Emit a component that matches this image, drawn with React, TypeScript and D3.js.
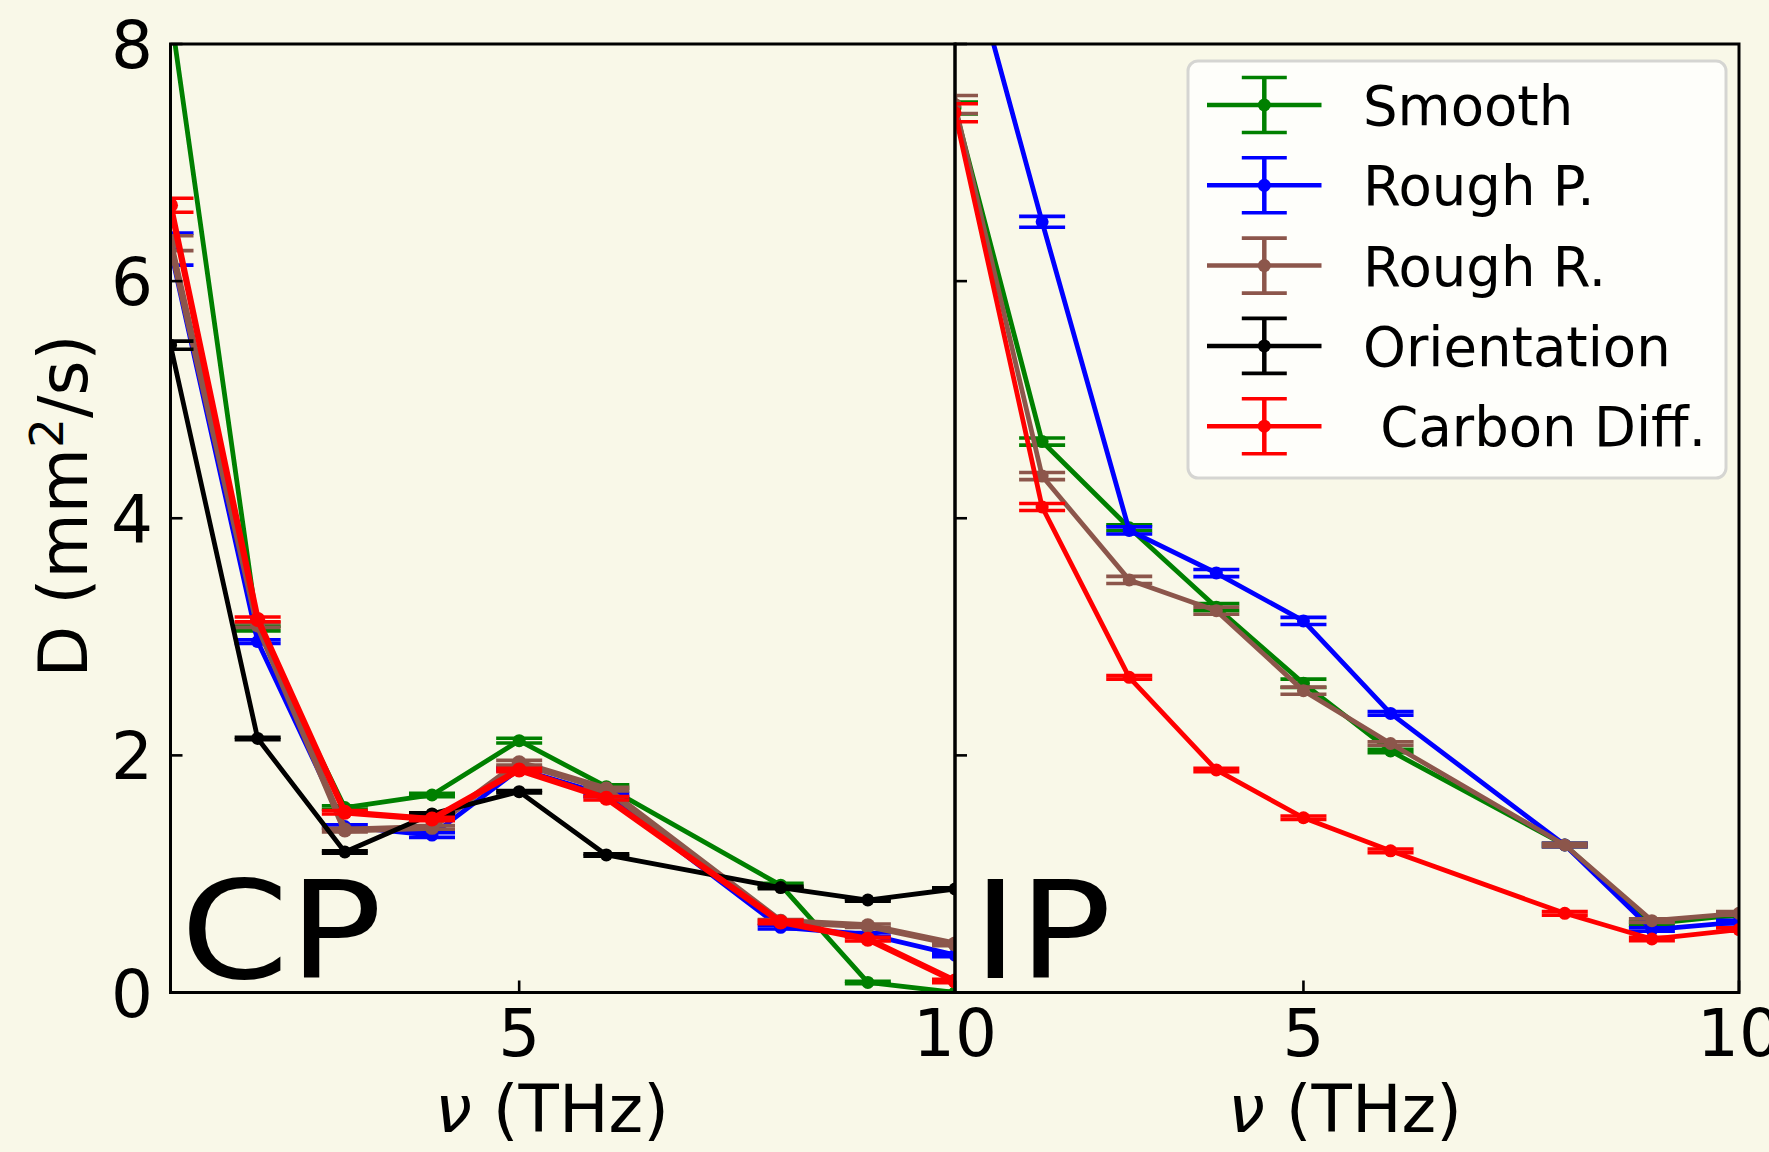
import React from 'react';
import * as d3 from 'd3';

const W = 1769;
const H = 1152;

// ---------- data ----------
const freqs = [1, 2, 3, 4, 5, 6, 8, 9, 10];
const seriesNames = ['Smooth', 'Rough P.', 'Rough R.', 'Orientation', ' Carbon Diff.'];
const seriesColors = ['#008000', '#0000ff', '#8c564b', '#000000', '#ff0000'];

// CP panel
const smoothCP = [8.27, 3.07, 1.56, 1.666, 2.124, 1.736, 0.905, 0.085, 0.0];
const roughPCP = [6.27, 2.96, 1.40, 1.328, 1.885, 1.666, 0.55, 0.49, 0.316];
const roughRCP = [6.32, 3.10, 1.37, 1.393, 1.938, 1.716, 0.60, 0.563, 0.41];
const orientCP = [5.46, 2.143, 1.185, 1.506, 1.694, 1.16, 0.885, 0.78, 0.873];
const carbonCP = [6.64, 3.147, 1.52, 1.463, 1.877, 1.638, 0.595, 0.45, 0.097];

const smoothErrCP = [0.05, 0.02, 0.015, 0.015, 0.02, 0.015, 0.015, 0.01, 0.01];
const roughPErrCP = [0.135, 0.015, 0.015, 0.02, 0.015, 0.015, 0.015, 0.015, 0.015];
const roughRErrCP = [0.063, 0.02, 0.015, 0.015, 0.02, 0.015, 0.015, 0.015, 0.015];
const orientErrCP = [0.034, 0.01, 0.01, 0.01, 0.01, 0.01, 0.01, 0.01, 0.01];
const carbonErrCP = [0.059, 0.02, 0.015, 0.015, 0.015, 0.015, 0.015, 0.015, 0.015];

// IP panel
const smoothIP = [7.46, 4.647, 3.92, 3.25, 2.608, 2.037, 1.244, 0.581, 0.655];
const roughPIP = [9.19, 6.50, 3.897, 3.538, 3.134, 2.354, 1.244, 0.531, 0.594];
const roughRIP = [7.49, 4.356, 3.48, 3.22, 2.546, 2.10, 1.244, 0.606, 0.668];
const carbonIP = [7.42, 4.095, 2.658, 1.877, 1.474, 1.195, 0.668, 0.451, 0.531];

const smoothErrIP = [0.05, 0.03, 0.025, 0.03, 0.035, 0.015, 0.015, 0.015, 0.015];
const roughPErrIP = [0.05, 0.046, 0.03, 0.03, 0.03, 0.015, 0.015, 0.015, 0.015];
const roughRErrIP = [0.076, 0.03, 0.03, 0.03, 0.03, 0.015, 0.015, 0.015, 0.015];
const carbonErrIP = [0.076, 0.03, 0.015, 0.015, 0.015, 0.015, 0.015, 0.015, 0.015];

const yTicks = [0, 2, 4, 6, 8];
const xTicks = [5, 10];
const xDomain = [1, 10];
const yDomain = [0, 8];

// ---------- layout ----------
const BG = '#f9f8e8';
const FONT = '"DejaVu Sans", sans-serif';
const plotTop = 44;
const plotBottom = 992.5;
const leftX0 = 170.5;
const leftX1 = 955;
const rightX0 = 955;
const rightX1 = 1739;
const tickLen = 12;
const capHalf = 23;
const capW = 3.6;

type Series = {
  name: string;
  color: string;
  values: number[];
  errors: number[];
  lw: number;
  r: number;
};

const cpSeries: Series[] = [
  { name: seriesNames[0], color: seriesColors[0], values: smoothCP, errors: smoothErrCP, lw: 4.8, r: 6.5 },
  { name: seriesNames[1], color: seriesColors[1], values: roughPCP, errors: roughPErrCP, lw: 4.8, r: 6.5 },
  { name: seriesNames[2], color: seriesColors[2], values: roughRCP, errors: roughRErrCP, lw: 6.8, r: 7.5 },
  { name: seriesNames[3], color: seriesColors[3], values: orientCP, errors: orientErrCP, lw: 4.8, r: 6.5 },
  { name: seriesNames[4], color: seriesColors[4], values: carbonCP, errors: carbonErrCP, lw: 6.3, r: 7.5 },
];

const ipSeries: Series[] = [
  { name: seriesNames[0], color: seriesColors[0], values: smoothIP, errors: smoothErrIP, lw: 4.8, r: 6.5 },
  { name: seriesNames[1], color: seriesColors[1], values: roughPIP, errors: roughPErrIP, lw: 4.8, r: 6.5 },
  { name: seriesNames[2], color: seriesColors[2], values: roughRIP, errors: roughRErrIP, lw: 4.8, r: 6.5 },
  { name: seriesNames[4], color: seriesColors[4], values: carbonIP, errors: carbonErrIP, lw: 4.8, r: 6.5 },
];

function Panel(props: {
  x0: number;
  x1: number;
  series: Series[];
  clipId: string;
  label: string;
  labelX: number;
  xLabelX: number;
  showYLabels: boolean;
}) {
  const { x0, x1, series, clipId, label, labelX, xLabelX, showYLabels } = props;
  const xs = d3.scaleLinear().domain(xDomain).range([x0, x1]);
  const ys = d3.scaleLinear().domain(yDomain).range([plotBottom, plotTop]);

  return (
    <g>
      <defs>
        <clipPath id={clipId}>
          <rect x={x0} y={plotTop} width={x1 - x0} height={plotBottom - plotTop} />
        </clipPath>
      </defs>
      <g clipPath={`url(#${clipId})`}>
        {series.map((s) => {
          const line = d3
            .line<number>()
            .x((_, i) => xs(freqs[i]))
            .y((v) => ys(v));
          return (
            <g key={s.name}>
              {s.values.map((v, i) => {
                const cx = xs(freqs[i]);
                const yLo = ys(v - s.errors[i]);
                const yHi = ys(v + s.errors[i]);
                return (
                  <g key={i}>
                    <line x1={cx} x2={cx} y1={yLo} y2={yHi} stroke={s.color} strokeWidth={s.lw} />
                    <line x1={cx - capHalf} x2={cx + capHalf} y1={yLo} y2={yLo} stroke={s.color} strokeWidth={capW} />
                    <line x1={cx - capHalf} x2={cx + capHalf} y1={yHi} y2={yHi} stroke={s.color} strokeWidth={capW} />
                  </g>
                );
              })}
              <path d={line(s.values) || ''} fill="none" stroke={s.color} strokeWidth={s.lw} strokeLinejoin="round" strokeLinecap="round" />
              {s.values.map((v, i) => (
                <circle key={i} cx={xs(freqs[i])} cy={ys(v)} r={s.r} fill={s.color} />
              ))}
            </g>
          );
        })}
      </g>
      <text transform={`translate(${labelX},978) scale(1.14,1)`} fontSize={136} fontFamily={FONT} fill="#000">
        {label}
      </text>
      {/* ticks */}
      {yTicks.map((t) => (
        <line key={'yt' + t} x1={x0} x2={x0 + tickLen} y1={ys(t)} y2={ys(t)} stroke="#000" strokeWidth={2.6} />
      ))}
      {xTicks.map((t) => (
        <line key={'xt' + t} x1={xs(t)} x2={xs(t)} y1={plotBottom} y2={plotBottom - tickLen} stroke="#000" strokeWidth={2.6} />
      ))}
      {showYLabels &&
        yTicks.map((t) => (
          <text key={'yl' + t} x={153} y={ys(t) + 24} textAnchor="end" fontSize={66} fontFamily={FONT} fill="#000">
            {t}
          </text>
        ))}
      {xTicks.map((t) => (
        <text key={'xl' + t} x={xs(t)} y={plotBottom + 63.5} textAnchor="middle" fontSize={66} fontFamily={FONT} fill="#000">
          {t}
        </text>
      ))}
      <text x={xLabelX} y={1132} textAnchor="middle" fontSize={66} fontFamily={FONT} fill="#000">
        <tspan fontStyle="italic">ν</tspan>
        <tspan> (THz)</tspan>
      </text>
      <rect x={x0} y={plotTop} width={x1 - x0} height={plotBottom - plotTop} fill="none" stroke="#000" strokeWidth={3} />
    </g>
  );
}

function Legend() {
  const lx = 1188;
  const ly = 61;
  const lw = 538;
  const lh = 417;
  const rowY0 = 105;
  const rowStep = 80.3;
  const handleX0 = 1207;
  const handleX1 = 1321.5;
  const handleC = 1264.3;
  return (
    <g>
      <rect x={lx} y={ly} width={lw} height={lh} rx={10} ry={10} fill="#fefefa" stroke="#d5d5d2" strokeWidth={3} />
      {seriesNames.map((n, i) => {
        const cy = rowY0 + i * rowStep;
        const c = seriesColors[i];
        return (
          <g key={n}>
            <line x1={handleC} x2={handleC} y1={cy - 27.5} y2={cy + 27.5} stroke={c} strokeWidth={4.5} />
            <line x1={handleC - 22.5} x2={handleC + 22.5} y1={cy - 27.5} y2={cy - 27.5} stroke={c} strokeWidth={capW} />
            <line x1={handleC - 22.5} x2={handleC + 22.5} y1={cy + 27.5} y2={cy + 27.5} stroke={c} strokeWidth={capW} />
            <line x1={handleX0} x2={handleX1} y1={cy} y2={cy} stroke={c} strokeWidth={4.5} />
            <circle cx={handleC} cy={cy} r={6.5} fill={c} />
            <text x={1363} y={cy + 20} fontSize={54.5} fontFamily={FONT} fill="#000" style={{ whiteSpace: 'pre' }}>
              {n}
            </text>
          </g>
        );
      })}
    </g>
  );
}

export default function App() {
  return (
    <svg
      width={W}
      height={H}
      viewBox={`0 0 ${W} ${H}`}
      style={{ position: 'absolute', left: 0, top: 0, display: 'block' }}
    >
      <rect x={0} y={0} width={W} height={H} fill={BG} />
      <Panel x0={leftX0} x1={leftX1} series={cpSeries} clipId="clipCP" label="CP" labelX={180.5} xLabelX={552} showYLabels={true} />
      <Panel x0={rightX0} x1={rightX1} series={ipSeries} clipId="clipIP" label="IP" labelX={972.5} xLabelX={1345} showYLabels={false} />
      <text transform="translate(87,506) rotate(-90)" textAnchor="middle" fontSize={67} fontFamily={FONT} fill="#000">
        <tspan>D (mm</tspan>
        <tspan fontSize={47} dy={-24}>2</tspan>
        <tspan dy={24}>/s)</tspan>
      </text>
      <Legend />
    </svg>
  );
}
